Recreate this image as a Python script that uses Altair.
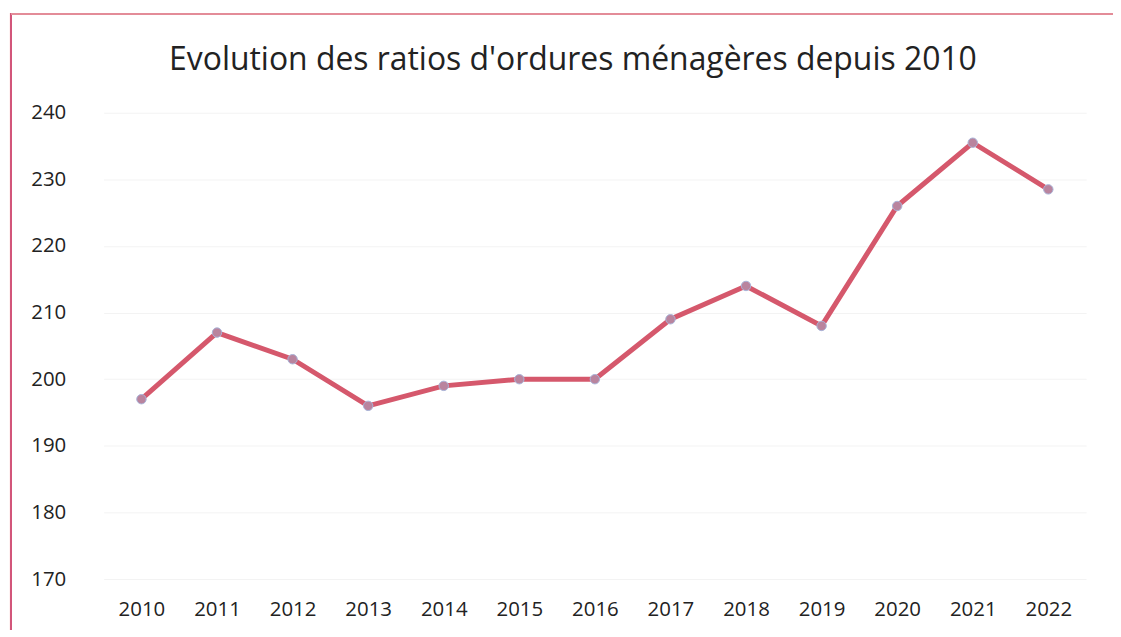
import altair as alt
import pandas as pd

years = ["2010", "2011", "2012", "2013", "2014", "2015", "2016",
         "2017", "2018", "2019", "2020", "2021", "2022"]
ratios = [197, 207, 203, 196, 199, 200, 200, 209, 214, 208, 226, 235.5, 228.5]
y_ticks = [170, 180, 190, 200, 210, 220, 230, 240]

df = pd.DataFrame({"annee": years, "ratio": ratios})

W, H = 986, 468
FONT = "Open Sans"

x = alt.X("annee:O", sort=years, title=None,
          axis=alt.Axis(labelAngle=0, labelFont=FONT, labelFontSize=20.5,
                        labelColor="#222222", labelPadding=21, ticks=False,
                        domain=False, grid=False))
y = alt.Y("ratio:Q", title=None,
          scale=alt.Scale(domain=[170, 240], nice=False, zero=False),
          axis=alt.Axis(values=y_ticks, labelFont=FONT, labelFontSize=20.5,
                        labelColor="#222222", labelPadding=38, ticks=False,
                        domain=False, grid=True, gridColor="#f3f3f3",
                        gridWidth=1))

line = alt.Chart(df).mark_line(color="#d5586c", strokeWidth=5).encode(x=x, y=y)
pts = alt.Chart(df).mark_point(filled=True, size=90, color="#b9849e",
                               stroke="#a9b4d8", strokeWidth=1,
                               opacity=1).encode(x=x, y=y)

frame_left = alt.Chart(df).mark_rule(color="#d2567a", strokeWidth=2).encode(
    x=alt.value(-93), y=alt.value(-100), y2=alt.value(530))
frame_top = alt.Chart(df).mark_rule(color="#e38c98", strokeWidth=1.5).encode(
    x=alt.value(-93), x2=alt.value(1030), y=alt.value(-99))

chart = alt.layer(line, pts, frame_left, frame_top).properties(
    width=W, height=H,
    title=alt.TitleParams("Evolution des ratios d'ordures ménagères depuis 2010",
                          font=FONT, fontSize=32, fontWeight="normal",
                          color="#222222", anchor="middle", dx=-22, offset=-65),
    autosize=alt.AutoSizeParams(type="none"),
    padding={"left": 96, "top": 104, "right": 27, "bottom": 50},
).configure(background="white").configure_view(stroke=None, strokeWidth=0)

chart.save("out.html", embed_options={"renderer": "svg", "actions": False})
